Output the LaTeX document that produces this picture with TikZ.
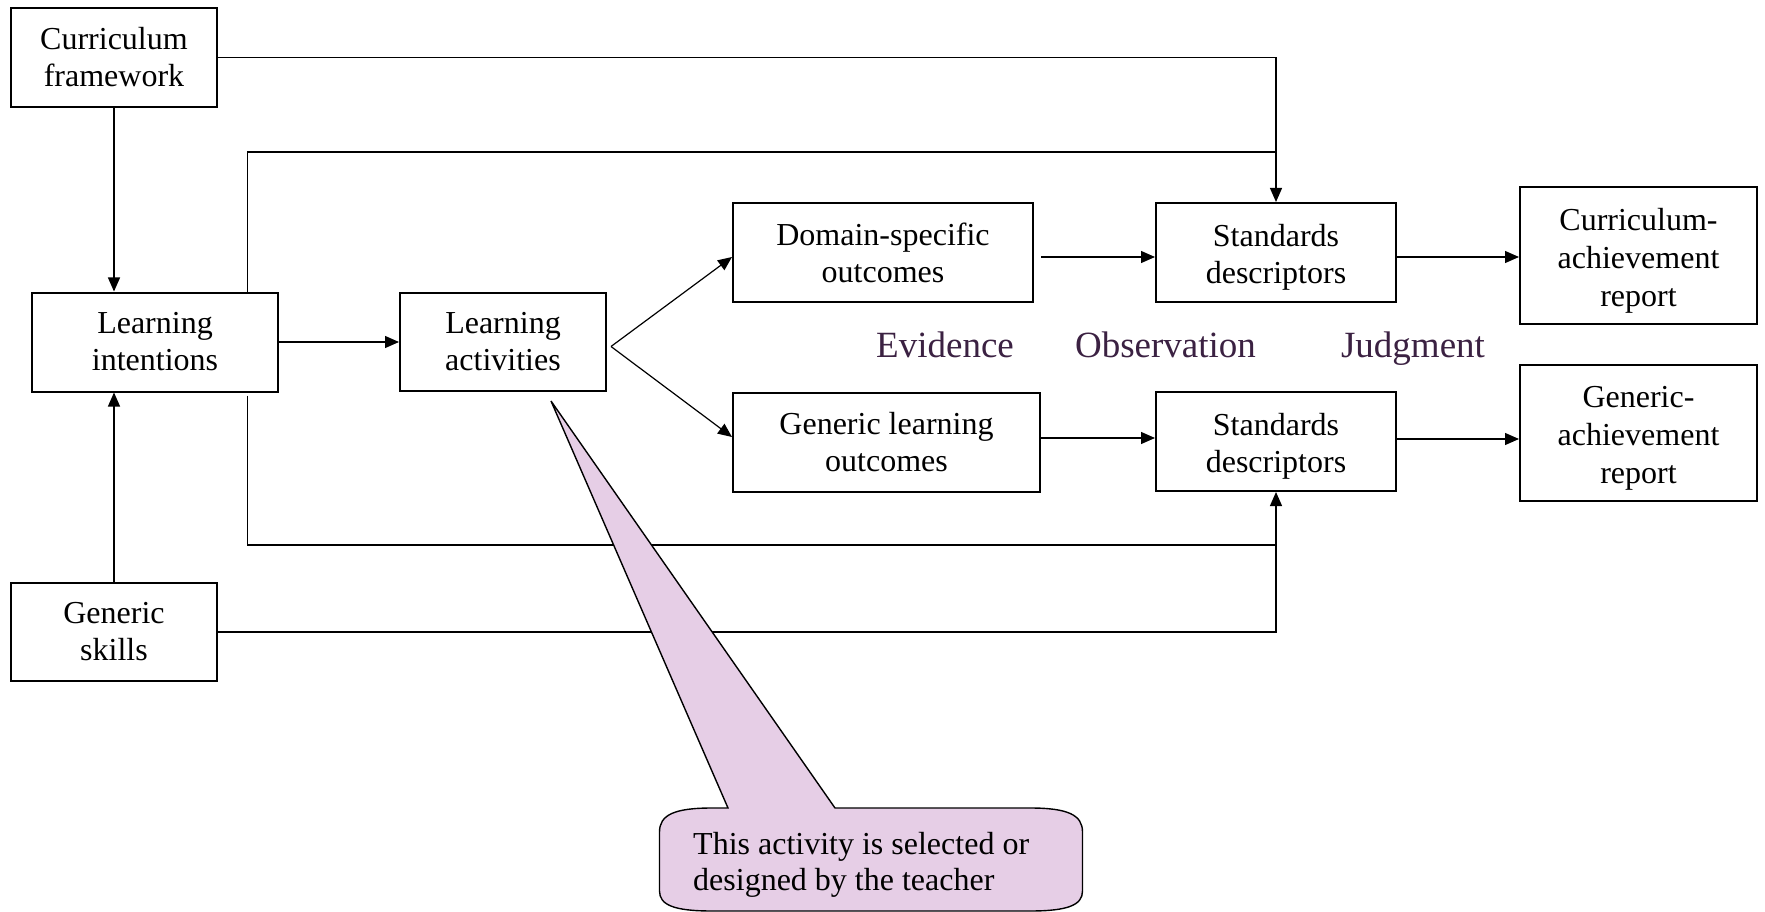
\documentclass[tikz,border=0pt]{standalone}
\usepackage{fontspec}
\setmainfont{Liberation Serif}
\usetikzlibrary{arrows.meta,calc}
\definecolor{lblcol}{HTML}{3B2142}
\definecolor{callfill}{HTML}{E6CEE6}
\newcommand{\lowr}{\rule{0pt}{32pt}}
\tikzset{
  box/.style={draw, line width=2pt, align=center, inner sep=0pt,
    font=\fontsize{32}{37}\selectfont},
  conn/.style={line width=1.2pt},
  arr/.style={conn, -{Triangle[length=14pt,width=12pt]}},
  lbl/.style={text=lblcol, font=\fontsize{37}{40}\selectfont, anchor=base, inner sep=0pt},
}
\begin{document}
\begin{tikzpicture}[x=1pt,y=-1pt]
\useasboundingbox (0,0) rectangle (1765,912);
% nodes
\node[box, minimum width=206pt, minimum height=99pt] (CF) at (114,57.5) {Curriculum\\framework};
\node[box, minimum width=246pt, minimum height=99pt] (LI) at (155,342) {Learning\\intentions};
\node[box, minimum width=206pt, minimum height=98pt] (LA) at (503,342) {Learning\\activities};
\node[box, minimum width=300pt, minimum height=99pt] (DSO) at (883,252.5) {Domain-specific\\outcomes};
\node[box, minimum width=307pt, minimum height=99pt] (GLO) at (886.5,442) {Generic learning\\outcomes};
\node[box, minimum width=240pt, minimum height=99pt] (SD1) at (1276,252.5) {\lowr Standards\\descriptors};
\node[box, minimum width=240pt, minimum height=99pt] (SD2) at (1276,441.5) {\lowr Standards\\descriptors};
\node[box, minimum width=237pt, minimum height=137pt, font=\fontsize{32}{38}\selectfont] (CAR) at (1638.5,255.5) {\lowr Curriculum-\\achievement\\report};
\node[box, minimum width=237pt, minimum height=136pt, font=\fontsize{32}{38}\selectfont] (GAR) at (1638.5,433) {\lowr Generic-\\achievement\\report};
\node[box, minimum width=206pt, minimum height=98pt] (GS) at (114,632) {Generic\\skills};
% labels
\node[lbl] (ev) at (945,357) {Evidence};
\node[lbl] (ob) at (1165.5,357) {Observation};
\node[lbl] (ju) at (1413,357) {Judgment};
% helper coordinates
\coordinate (ytop) at (0,152);
\coordinate (ybot) at (0,545);
\coordinate (j1) at (SD1.north |- ytop);
\coordinate (j2) at (SD2.south |- ybot);
% connectors
\draw[arr] (CF.east) -| (SD1.north);
\draw[conn] ([xshift=-31.5pt]LI.north east) |- (j1);
\draw[arr] (CF.south) -- (CF.south |- LI.north);
\draw[arr] (GS.north) -- (GS.north |- LI.south);
\draw[arr] ([xshift=-31.5pt,yshift=-3pt]LI.south east) |- (j2) -- (SD2.south);
\draw[conn] (GS.east) -| (j2);
\draw[arr] (LI.east) -- (LA.west);
\coordinate (br) at ([xshift=4pt,yshift=-4.5pt]LA.east);
\draw[arr] (br) -- ([yshift=-4.5pt]DSO.west);
\draw[arr] (br) -- ([yshift=5pt]GLO.west);
\draw[arr] ([xshift=7pt,yshift=-4.5pt]DSO.east) -- ([yshift=-4.5pt]SD1.west);
\draw[arr] ([yshift=4pt]GLO.east) coordinate (g1) -- (g1 -| SD2.west);
\draw[arr] ([yshift=-4.5pt]SD1.east) coordinate (s1) -- (s1 -| CAR.west);
\draw[arr] ([yshift=2.5pt]SD2.east) coordinate (s2) -- (s2 -| GAR.west);
% callout
\draw[fill=callfill, line width=1.4pt, line join=miter]
  (728,808) -- (551,401) -- (835,808) -- (1030,808)
  .. controls (1068,808) and (1082.5,815) .. (1082.5,832)
  -- (1082.5,891)
  .. controls (1082.5,905) and (1068,911) .. (1030,911)
  -- (712,911)
  .. controls (674,911) and (659.5,905) .. (659.5,891)
  -- (659.5,832)
  .. controls (659.5,815) and (674,808) .. (712,808) -- cycle;
\node[anchor=base west, inner sep=0pt, font=\fontsize{32}{36}\selectfont] (ct) at (693,854) {This activity is selected or};
\node[anchor=base west, inner sep=0pt, font=\fontsize{32}{36}\selectfont] (ct2) at (693,890) {designed by the teacher};
\end{tikzpicture}
\end{document}
